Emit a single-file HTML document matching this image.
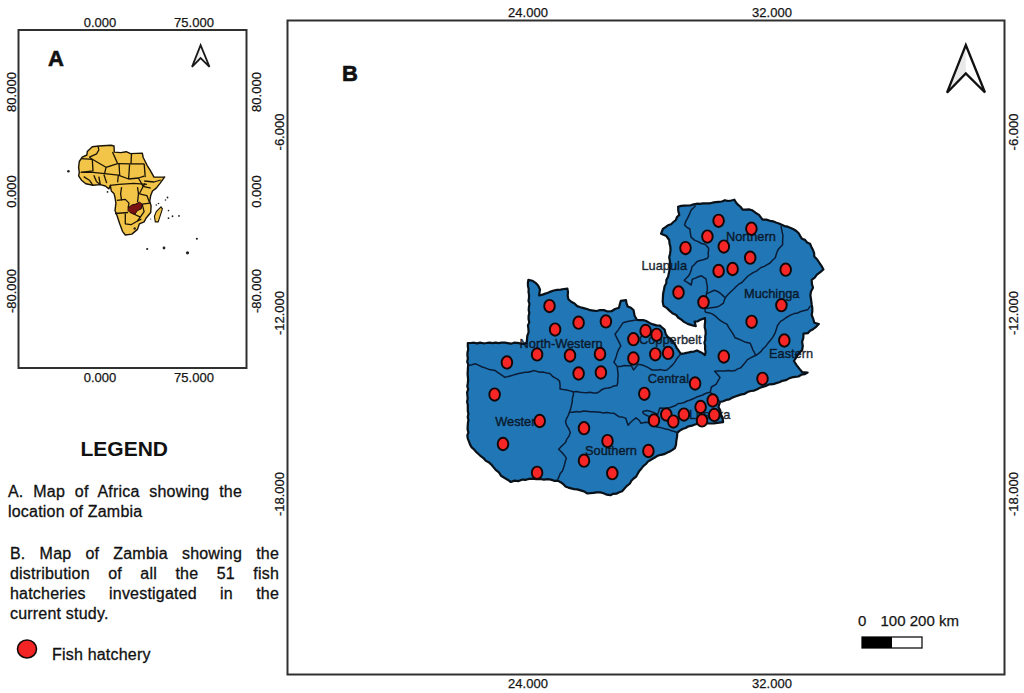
<!DOCTYPE html>
<html><head><meta charset="utf-8"><style>
html,body{margin:0;padding:0;background:#fff;width:1024px;height:693px;overflow:hidden;position:relative}
.p{position:absolute;font-family:"Liberation Sans",sans-serif;font-size:16px;line-height:20px;color:#111;text-align:justify;letter-spacing:0.2px;-webkit-text-stroke:0.3px #111}
.j{text-align:justify;text-align-last:justify;white-space:nowrap}
.h{position:absolute;font-family:"Liberation Sans",sans-serif;font-size:21px;font-weight:bold;color:#111;left:80.5px;top:437px;line-height:24px}
</style></head><body>
<svg width="1024" height="693" viewBox="0 0 1024 693" style="position:absolute;left:0;top:0"><rect x="18.5" y="30" width="228" height="338" fill="none" stroke="#303030" stroke-width="2"/><rect x="287.5" y="20.5" width="717" height="654" fill="none" stroke="#303030" stroke-width="2"/><text x="100" y="26.5" font-size="13" text-anchor="middle" font-family="Liberation Sans" fill="#151515" stroke="#151515" stroke-width="0.25">0.000</text><text x="100" y="382" font-size="13" text-anchor="middle" font-family="Liberation Sans" fill="#151515" stroke="#151515" stroke-width="0.25">0.000</text><text x="194" y="26.5" font-size="13" text-anchor="middle" font-family="Liberation Sans" fill="#151515" stroke="#151515" stroke-width="0.25">75.000</text><text x="194" y="382" font-size="13" text-anchor="middle" font-family="Liberation Sans" fill="#151515" stroke="#151515" stroke-width="0.25">75.000</text><text transform="translate(15.5,92) rotate(-90)" x="0" y="0" font-size="13" text-anchor="middle" font-family="Liberation Sans" fill="#151515" stroke="#151515" stroke-width="0.25">80.000</text><text transform="translate(260.5,92) rotate(-90)" x="0" y="0" font-size="13" text-anchor="middle" font-family="Liberation Sans" fill="#151515" stroke="#151515" stroke-width="0.25">80.000</text><text transform="translate(15.5,191.5) rotate(-90)" x="0" y="0" font-size="13" text-anchor="middle" font-family="Liberation Sans" fill="#151515" stroke="#151515" stroke-width="0.25">0.000</text><text transform="translate(260.5,191.5) rotate(-90)" x="0" y="0" font-size="13" text-anchor="middle" font-family="Liberation Sans" fill="#151515" stroke="#151515" stroke-width="0.25">0.000</text><text transform="translate(15.5,291) rotate(-90)" x="0" y="0" font-size="13" text-anchor="middle" font-family="Liberation Sans" fill="#151515" stroke="#151515" stroke-width="0.25">-80.000</text><text transform="translate(260.5,291) rotate(-90)" x="0" y="0" font-size="13" text-anchor="middle" font-family="Liberation Sans" fill="#151515" stroke="#151515" stroke-width="0.25">-80.000</text><text x="528" y="17" font-size="13" text-anchor="middle" font-family="Liberation Sans" fill="#151515" stroke="#151515" stroke-width="0.25">24.000</text><text x="528" y="688" font-size="13" text-anchor="middle" font-family="Liberation Sans" fill="#151515" stroke="#151515" stroke-width="0.25">24.000</text><text x="772" y="17" font-size="13" text-anchor="middle" font-family="Liberation Sans" fill="#151515" stroke="#151515" stroke-width="0.25">32.000</text><text x="772" y="688" font-size="13" text-anchor="middle" font-family="Liberation Sans" fill="#151515" stroke="#151515" stroke-width="0.25">32.000</text><text transform="translate(283.5,132) rotate(-90)" x="0" y="0" font-size="13" text-anchor="middle" font-family="Liberation Sans" fill="#151515" stroke="#151515" stroke-width="0.25">-6.000</text><text transform="translate(1018.3,132) rotate(-90)" x="0" y="0" font-size="13" text-anchor="middle" font-family="Liberation Sans" fill="#151515" stroke="#151515" stroke-width="0.25">-6.000</text><text transform="translate(283.5,313) rotate(-90)" x="0" y="0" font-size="13" text-anchor="middle" font-family="Liberation Sans" fill="#151515" stroke="#151515" stroke-width="0.25">-12.000</text><text transform="translate(1018.3,313) rotate(-90)" x="0" y="0" font-size="13" text-anchor="middle" font-family="Liberation Sans" fill="#151515" stroke="#151515" stroke-width="0.25">-12.000</text><text transform="translate(283.5,494) rotate(-90)" x="0" y="0" font-size="13" text-anchor="middle" font-family="Liberation Sans" fill="#151515" stroke="#151515" stroke-width="0.25">-18.000</text><text transform="translate(1018.3,494) rotate(-90)" x="0" y="0" font-size="13" text-anchor="middle" font-family="Liberation Sans" fill="#151515" stroke="#151515" stroke-width="0.25">-18.000</text><text x="48" y="65.6" font-size="22" font-weight="bold" font-family="Liberation Sans" fill="#111" stroke="#111" stroke-width="0.6">A</text><text x="342" y="80.6" font-size="22" font-weight="bold" font-family="Liberation Sans" fill="#111" stroke="#111" stroke-width="0.6">B</text><polygon points="200.6,45.2 200.6,58 192,66.8" fill="#eee"/><polygon points="200.6,45.2 209.5,66.8 200.6,58 192,66.8" fill="none" stroke="#1a1a1a" stroke-width="1.8" stroke-linejoin="miter"/><polygon points="965.8,45 965.8,73.5 947,92.7" fill="#e9e9e9"/><polygon points="965.8,45 985,92.5 965.8,73.5 947,92.7" fill="none" stroke="#111" stroke-width="2.3" stroke-linejoin="miter"/><polygon points="78.6,167.3 79.3,161.5 82.2,157.2 86.9,155.0 87.3,151.4 92.3,146.7 98.8,146.0 111.0,145.2 114.0,146.0 114.3,152.1 120.8,152.6 126.2,151.7 130.5,153.6 142.3,153.1 143.2,157.5 147.1,165.3 150.1,170.2 154.0,177.1 163.8,177.1 164.7,176.9 160.0,183.4 156.3,188.1 152.5,191.0 150.7,195.6 149.7,201.3 151.1,206.0 150.7,212.5 146.0,218.2 144.1,221.9 139.4,223.8 137.5,229.4 131.9,234.1 125.3,235.0 122.5,231.3 119.7,223.8 116.9,215.3 115.0,210.6 115.9,203.1 115.0,197.5 114.1,193.8 111.3,191.0 110.3,185.3 108.9,188.9 105.3,186.0 100.3,184.6 93.0,185.3 85.8,183.8 81.5,180.2 78.6,175.9 79.3,172.3" fill="#f2c448" stroke="#1a1408" stroke-width="1.4" stroke-linejoin="round"/><polyline points="89.4,157.2 96.6,153.9 98.8,150.0 98.1,146.3" fill="none" stroke="#1a1408" stroke-width="1.3" stroke-linejoin="round"/><polyline points="81.5,158.6 92.3,159.3" fill="none" stroke="#1a1408" stroke-width="1.3" stroke-linejoin="round"/><polyline points="92.3,159.3 93.0,170.9 80.8,172.3" fill="none" stroke="#1a1408" stroke-width="1.3" stroke-linejoin="round"/><polyline points="89.4,157.2 92.3,159.3 106.0,167.3 117.6,163.6" fill="none" stroke="#1a1408" stroke-width="1.3" stroke-linejoin="round"/><polyline points="112.5,152.1 117.6,163.6" fill="none" stroke="#1a1408" stroke-width="1.3" stroke-linejoin="round"/><polyline points="106.0,167.3 104.6,173.7" fill="none" stroke="#1a1408" stroke-width="1.3" stroke-linejoin="round"/><polyline points="117.6,163.6 131.0,163.9" fill="none" stroke="#1a1408" stroke-width="1.3" stroke-linejoin="round"/><polyline points="131.5,153.6 131.0,163.9" fill="none" stroke="#1a1408" stroke-width="1.3" stroke-linejoin="round"/><polyline points="131.0,163.9 144.2,163.9" fill="none" stroke="#1a1408" stroke-width="1.3" stroke-linejoin="round"/><polyline points="119.0,163.6 119.7,175.2" fill="none" stroke="#1a1408" stroke-width="1.3" stroke-linejoin="round"/><polyline points="129.6,164.4 128.6,179.0" fill="none" stroke="#1a1408" stroke-width="1.3" stroke-linejoin="round"/><polyline points="80.8,172.3 93.0,172.3 104.6,173.7 118.3,175.2 128.6,179.0 138.4,178.0 144.2,176.1" fill="none" stroke="#1a1408" stroke-width="1.3" stroke-linejoin="round"/><polyline points="144.2,163.9 145.2,177.1" fill="none" stroke="#1a1408" stroke-width="1.3" stroke-linejoin="round"/><polyline points="144.2,181.0 154.0,182.0 160.8,180.0" fill="none" stroke="#1a1408" stroke-width="1.3" stroke-linejoin="round"/><polyline points="83.7,176.6 89.4,180.2" fill="none" stroke="#1a1408" stroke-width="1.3" stroke-linejoin="round"/><polyline points="93.8,175.2 96.6,181.7" fill="none" stroke="#1a1408" stroke-width="1.3" stroke-linejoin="round"/><polyline points="98.8,176.6 100.3,184.6" fill="none" stroke="#1a1408" stroke-width="1.3" stroke-linejoin="round"/><polyline points="103.9,174.5 106.7,183.1" fill="none" stroke="#1a1408" stroke-width="1.3" stroke-linejoin="round"/><polyline points="118.3,175.2 117.6,182.4" fill="none" stroke="#1a1408" stroke-width="1.3" stroke-linejoin="round"/><polyline points="89.4,180.2 93.0,185.3" fill="none" stroke="#1a1408" stroke-width="1.3" stroke-linejoin="round"/><polyline points="96.6,181.7 100.3,184.6" fill="none" stroke="#1a1408" stroke-width="1.3" stroke-linejoin="round"/><polyline points="110.3,185.3 118.8,184.4 133.8,183.4 146.9,184.4" fill="none" stroke="#1a1408" stroke-width="1.3" stroke-linejoin="round"/><polyline points="121.6,187.2 120.6,193.8 121.6,200.3" fill="none" stroke="#1a1408" stroke-width="1.3" stroke-linejoin="round"/><polyline points="137.5,187.2 138.5,193.8 137.5,202.2" fill="none" stroke="#1a1408" stroke-width="1.3" stroke-linejoin="round"/><polyline points="116.9,200.3 125.3,199.4 129.0,203.1 128.1,207.8" fill="none" stroke="#1a1408" stroke-width="1.3" stroke-linejoin="round"/><polyline points="115.0,213.5 128.1,212.5" fill="none" stroke="#1a1408" stroke-width="1.3" stroke-linejoin="round"/><polyline points="125.3,213.5 125.3,223.8 131.0,224.7 137.5,221.0 141.3,219.1" fill="none" stroke="#1a1408" stroke-width="1.3" stroke-linejoin="round"/><polyline points="132.8,213.5 140.3,217.2 137.5,221.0" fill="none" stroke="#1a1408" stroke-width="1.3" stroke-linejoin="round"/><polyline points="142.2,204.1 144.1,211.6 140.3,217.2" fill="none" stroke="#1a1408" stroke-width="1.3" stroke-linejoin="round"/><polyline points="139.4,193.8 146.9,195.6 149.7,203.1 142.2,204.1" fill="none" stroke="#1a1408" stroke-width="1.3" stroke-linejoin="round"/><polyline points="143.2,186.3 150.7,188.1" fill="none" stroke="#1a1408" stroke-width="1.3" stroke-linejoin="round"/><polyline points="145.0,183.4 143.2,186.3 139.4,193.8" fill="none" stroke="#1a1408" stroke-width="1.3" stroke-linejoin="round"/><polyline points="138.4,178.0 143.2,186.3" fill="none" stroke="#1a1408" stroke-width="1.3" stroke-linejoin="round"/><polygon points="161,206.9 162.4,208.8 160,216.3 158.2,221.9 155.3,221.9 154.4,216.3 156.3,211.6" fill="#f2c448" stroke="#1a1408" stroke-width="1.1"/><polygon points="128.1,207.8 131.9,205 135.6,204.1 139.4,202.2 142.2,204.1 141.3,208.8 137.5,210.6 134.7,214.4 130,212.5 128.1,210.6" fill="#7a1212" stroke="#1a0808" stroke-width="1"/><circle cx="68.4" cy="171.25" r="1.3" fill="#222"/><circle cx="107.5" cy="191.9" r="0.9" fill="#222"/><circle cx="156.3" cy="205" r="0.8" fill="#222"/><circle cx="158.5" cy="203.5" r="0.8" fill="#222"/><circle cx="167.5" cy="197.5" r="0.9" fill="#222"/><circle cx="165.5" cy="200" r="0.8" fill="#222"/><circle cx="168.5" cy="210.6" r="0.8" fill="#222"/><circle cx="168.5" cy="218.2" r="0.9" fill="#222"/><circle cx="172.5" cy="216.25" r="0.9" fill="#222"/><circle cx="179" cy="215.9" r="0.9" fill="#222"/><circle cx="150.7" cy="219" r="0.6" fill="#222"/><circle cx="134.7" cy="228.5" r="1.2" fill="#222"/><circle cx="196.9" cy="238.75" r="1.1" fill="#222"/><circle cx="147.2" cy="249" r="1.1" fill="#222"/><circle cx="164" cy="248" r="1.4" fill="#222"/><circle cx="187.5" cy="252.8" r="1.6" fill="#222"/><polygon points="467.8,343.2 470.9,343.0 474.0,342.7 477.1,343.4 480.1,342.6 483.2,343.3 486.3,343.0 489.4,342.6 492.5,343.2 495.6,342.6 498.6,343.1 501.7,342.6 504.8,342.6 507.9,343.1 511.0,343.7 514.1,342.7 517.1,342.8 520.2,343.4 523.3,343.8 526.4,343.2 527.0,339.6 527.3,335.9 528.6,332.3 528.4,328.6 527.9,325.4 529.3,322.4 528.6,319.2 528.6,316.1 529.3,313.0 528.7,310.0 528.9,307.0 529.5,303.9 528.5,300.9 529.0,297.9 529.0,294.9 528.5,291.9 528.7,288.9 528.0,285.9 527.9,282.8 528.4,279.8 532.3,280.7 535.5,282.8 538.1,285.6 540.0,289.5 539.1,295.4 542.6,294.6 546.0,293.4 549.8,291.9 553.8,290.5 557.1,289.8 560.6,289.7 564.0,289.0 567.4,288.6 568.0,292.1 567.7,295.8 568.4,299.3 571.2,301.8 574.5,303.5 577.2,306.1 580.4,307.2 583.7,308.1 587.0,309.0 590.1,310.2 593.4,310.6 596.7,311.0 600.0,310.0 603.9,310.1 607.6,311.5 611.5,311.2 615.0,309.0 619.0,307.7 619.8,304.2 620.8,300.8 626.0,300.2 626.5,303.4 627.7,306.5 630.9,307.8 633.5,310.0 634.6,315.8 636.9,319.8 640.0,320.2 643.2,320.0 646.2,321.0 649.5,322.9 653.1,324.4 656.5,325.4 660.0,325.6 662.2,327.7 664.6,329.6 665.8,334.2 667.7,336.9 670.6,338.7 672.7,341.2 675.0,344.6 676.7,347.8 678.8,350.9 680.8,353.9 684.3,353.4 687.7,352.7 690.8,351.9 694.0,351.6 697.0,350.4 701.6,352.7 705.0,355.0 705.6,351.9 705.0,348.9 705.2,345.8 704.4,342.7 705.3,339.6 705.2,336.6 705.7,333.5 705.5,330.4 704.7,327.3 704.8,324.2 705.2,321.2 705.0,318.1 700.4,319.8 697.7,321.3 694.6,321.5 695.8,326.2 691.7,325.1 687.7,323.9 684.0,321.9 680.8,319.2 678.1,317.5 676.2,315.0 672.4,313.2 669.2,310.4 666.6,307.8 663.5,305.8 662.7,301.8 662.9,297.7 663.1,293.8 663.9,290.0 664.6,286.2 666.3,283.3 666.4,279.8 668.1,276.9 668.9,272.8 669.8,268.8 669.7,265.0 669.9,261.1 669.2,257.3 670.0,253.9 670.5,250.4 670.4,246.9 669.5,243.5 669.2,240.0 666.4,236.0 661.1,233.7 662.9,229.0 665.5,227.2 668.0,225.3 671.1,224.2 673.4,222.0 675.9,220.0 677.0,217.0 679.3,214.9 678.3,210.9 678.1,206.7 681.2,205.9 684.3,205.6 687.5,205.5 690.6,205.3 693.7,204.4 696.8,203.7 700.0,203.9 703.1,203.4 706.3,203.3 709.5,203.4 712.5,202.7 715.6,202.1 718.8,201.8 721.9,201.5 724.9,200.2 728.2,201.0 731.3,200.5 734.4,199.7 736.0,202.5 738.2,204.9 740.7,207.0 742.6,209.6 745.7,209.7 748.9,209.4 752.0,210.2 755.4,212.7 759.0,214.9 762.5,219.6 766.3,219.6 770.0,220.8 773.1,221.3 775.9,222.5 778.9,223.5 781.7,224.8 784.5,226.1 787.7,226.7 790.7,227.9 793.5,229.3 796.3,231.0 798.7,233.3 800.3,236.1 802.0,238.8 805.0,239.9 807.1,242.5 810.0,243.7 811.4,246.9 813.0,250.0 814.1,253.2 814.3,256.5 817.2,259.5 819.5,263.0 821.6,266.1 823.4,269.5 820.3,272.2 816.9,274.7 814.7,277.7 811.7,279.9 811.9,283.9 813.0,287.7 811.0,291.4 810.4,295.5 810.9,298.5 811.3,301.5 811.7,304.5 812.3,308.0 812.3,311.5 811.7,315.0 813.2,318.8 814.3,322.7 818.8,324.0 816.1,326.8 813.0,329.2 810.1,330.8 807.8,333.1 803.5,333.7 803.3,337.9 802.1,341.9 802.8,346.0 802.1,350.1 798.9,353.1 796.6,356.9 793.9,361.0 796.6,365.1 799.3,368.6 802.1,372.0 807.6,372.6 804.6,374.2 801.3,374.7 798.4,376.5 795.1,376.9 791.7,377.4 788.7,378.6 785.7,380.2 782.4,380.8 779.4,382.3 776.2,383.1 773.1,384.2 769.7,384.3 766.6,385.6 763.5,386.7 760.2,387.6 757.3,389.3 754.2,390.6 750.8,391.0 747.6,392.0 744.7,393.8 741.5,394.4 738.4,395.4 735.3,396.5 732.3,397.6 729.4,399.3 726.2,399.9 723.2,401.2 720.1,402.0 718.4,407.0 720.2,410.3 720.8,414.0 722.6,417.9 723.1,422.2 717.3,422.8 713.8,423.3 710.3,423.5 706.7,423.4 702.8,423.5 698.8,423.5 695.0,424.5 691.9,425.7 688.5,426.3 685.6,428.0 682.5,429.0 679.8,430.6 677.4,432.7 677.0,436.9 676.3,441.0 676.0,444.6 675.0,448.0 672.5,449.9 669.8,451.5 666.9,452.7 664.1,454.2 661.0,454.8 657.9,455.6 655.2,457.3 650.5,460.0 647.9,461.6 645.9,464.0 643.6,465.9 641.5,468.4 639.3,470.9 637.7,473.8 636.2,476.6 633.6,478.5 631.4,480.7 629.9,483.5 627.0,485.8 624.5,488.5 622.1,491.3 619.2,492.3 616.4,493.7 613.2,493.8 610.4,495.2 606.9,494.7 603.6,493.3 600.3,492.4 596.7,492.3 593.5,492.8 590.2,493.1 587.0,493.3 584.0,491.4 580.6,490.4 577.2,489.4 574.2,489.1 571.2,488.4 568.3,487.6 565.5,486.4 563.2,484.0 560.6,482.2 557.7,480.6 554.2,480.8 550.9,479.6 547.5,479.2 544.0,479.6 540.1,479.0 536.2,479.1 532.3,478.6 529.0,478.9 525.8,479.8 522.5,479.6 518.7,481.1 514.6,480.6 510.8,482.0 507.6,479.7 504.3,477.8 501.0,475.7 498.9,472.4 495.7,469.9 493.2,466.9 491.1,464.3 488.6,462.2 485.6,460.6 483.4,458.1 480.8,456.2 478.5,454.0 476.1,451.9 474.1,449.5 471.7,447.4 470.1,444.6 469.0,441.6 467.8,438.6 467.3,435.5 468.4,432.4 467.6,429.4 467.7,426.3 467.9,423.2 468.4,420.1 467.7,417.1 468.4,414.0 467.8,410.9 467.8,407.8 467.8,404.7 467.1,401.7 467.7,398.6 467.4,395.5 467.1,392.4 468.2,389.4 467.3,386.3 467.8,383.2 468.1,380.1 467.9,377.1 467.6,374.0 467.8,370.9 467.9,367.8 468.2,364.7 467.2,361.7 467.9,358.6 467.4,355.5 467.5,352.4 468.2,349.4 467.8,346.3" fill="#2176b5" stroke="#081018" stroke-width="2.2" stroke-linejoin="round"/><polyline points="467.8,365.7 471.7,364.8 475.6,363.8 478.9,365.4 482.3,367.0 485.9,368.1 489.3,369.6 495.2,370.6 498.4,372.9 501.7,375.1 505.0,377.4 508.4,376.4 511.8,375.6 515.2,374.4 518.6,373.5 521.7,372.9 524.8,372.3 528.0,372.2 531.1,371.4 534.2,370.6 537.3,371.5 540.4,372.2 543.6,372.1 546.7,373.0 549.8,373.5 552.0,375.8 554.5,377.6 557.4,379.1 559.6,381.3 560.1,385.1 560.0,389.0 563.3,389.6 566.7,390.0 570.0,390.9 573.3,391.8" fill="none" stroke="#0a1c36" stroke-width="1.5" stroke-linejoin="round"/><polyline points="573.3,391.8 576.7,391.6 580.0,392.3 583.3,392.6 586.7,392.8 590.0,392.3 593.3,393.0 596.7,393.0 599.4,391.6 601.7,389.7 604.5,388.5 607.7,388.1 610.8,387.4 613.8,386.0 617.0,385.5 617.8,382.2 617.7,378.8 618.2,375.5 617.7,371.1 617.3,366.6" fill="none" stroke="#0a1c36" stroke-width="1.5" stroke-linejoin="round"/><polyline points="617.3,366.6 613.9,362.0 615.4,359.1 616.4,355.9 617.3,352.7 618.8,349.1 620.8,345.8 618.5,341.2 616.7,337.7 615.0,334.2 618.5,329.6 620.8,326.2 623.1,322.7 626.5,321.8 629.9,321.0 633.4,320.4 636.9,319.8" fill="none" stroke="#0a1c36" stroke-width="1.5" stroke-linejoin="round"/><polyline points="617.3,366.6 620.8,366.5 624.2,365.6 627.7,365.7 631.2,365.4 633.5,370.0 635.8,367.1 638.1,364.3 642.3,365.0 646.2,366.6 649.1,368.2 651.9,370.0 654.9,370.1 657.9,370.0 660.9,369.6 663.9,370.4 666.9,370.0 669.8,367.5 672.6,364.9 675.0,361.9 676.6,359.0 678.7,356.4 680.8,353.9" fill="none" stroke="#0a1c36" stroke-width="1.5" stroke-linejoin="round"/><polyline points="573.3,391.8 573.4,395.1 572.4,398.2 572.3,401.5 571.5,405.1 570.7,408.7 569.4,412.2 568.2,415.5 566.5,418.6 565.5,422.0 566.8,425.7 568.9,429.0 570.3,432.7 569.0,436.1 566.8,439.1 565.5,442.5 563.2,444.7 560.8,446.9 558.6,449.3 561.5,452.0 564.1,454.9 566.4,458.1 565.3,461.3 564.5,464.7 563.5,467.9 562.4,471.0 560.2,473.6 559.0,476.6 557.7,479.6" fill="none" stroke="#0a1c36" stroke-width="1.5" stroke-linejoin="round"/><polyline points="569.4,412.2 572.9,412.3 576.4,411.4 580.0,412.0 583.5,411.1 587.0,411.2 590.3,411.8 593.6,411.7 596.9,411.9 600.1,412.3 603.4,412.9 606.7,412.5 610.0,413.0 614.1,413.3 618.9,416.7 622.4,417.1 625.7,418.1 626.9,421.7 628.1,425.3 630.2,422.7 632.6,420.5 636.0,417.8 639.4,420.5 640.8,423.2 645.5,422.2 649.0,422.6 652.9,424.5 656.5,427.0 660.7,427.6 664.7,428.7 668.2,429.4 671.5,430.8 674.5,431.5 677.4,432.7" fill="none" stroke="#0a1c36" stroke-width="1.5" stroke-linejoin="round"/><polyline points="649.0,416.4 646.2,415.2 643.5,413.7 642.8,411.6 646.9,410.6 651.0,411.6 654.5,412.8 657.8,414.4 659.2,409.6 660.0,407.9 664.7,408.2 670.2,407.5 675.6,405.5 678.4,403.4 681.0,403.4 684.2,402.5 687.1,401.0 690.3,400.0 693.2,398.8 696.0,397.3 699.0,396.3 702.0,395.2 706.0,393.3 710.2,392.3" fill="none" stroke="#0a1c36" stroke-width="1.5" stroke-linejoin="round"/><polyline points="649.0,416.4 649.2,419.5 649.0,422.6" fill="none" stroke="#0a1c36" stroke-width="1.5" stroke-linejoin="round"/><polyline points="710.2,392.3 713.4,394.8 716.0,398.0 720.1,402.0" fill="none" stroke="#0a1c36" stroke-width="1.5" stroke-linejoin="round"/><polyline points="755.6,355.5 752.8,356.7 750.1,358.2 747.4,359.6 745.3,362.6 742.9,365.2 740.6,367.9 737.7,368.9 735.1,370.6 731.7,371.1 728.3,370.5 724.9,371.0 721.4,371.1 718.0,370.9 714.6,371.3 717.4,374.3 720.1,377.4 718.0,380.8 716.0,384.3 711.4,387.0 710.2,392.3" fill="none" stroke="#0a1c36" stroke-width="1.5" stroke-linejoin="round"/><polyline points="810.4,305.8 807.8,309.7 804.4,310.6 800.9,311.4 797.7,313.0 794.2,313.6 790.9,314.9 788.2,316.4 785.6,318.0 783.1,319.8 780.5,321.4 777.5,325.5 776.3,329.6 774.8,333.7 772.8,337.1 770.5,340.2 767.9,343.2 765.9,346.2 763.2,348.5 761.1,351.4 758.5,353.6 755.6,355.5" fill="none" stroke="#0a1c36" stroke-width="1.5" stroke-linejoin="round"/><polyline points="705.2,312.3 708.5,312.7 711.7,313.6 715.2,315.9 718.2,318.8 720.9,320.8 723.8,322.6 726.9,324.1 728.8,327.6 731.0,330.9 733.2,334.2 735.1,337.8 738.4,339.0 741.6,340.4 744.7,341.9 750.2,343.2 751.6,346.6 752.9,350.1 754.5,352.7 755.6,355.5" fill="none" stroke="#0a1c36" stroke-width="1.5" stroke-linejoin="round"/><polyline points="695.7,205.5 693.4,207.9 691.0,210.2 689.4,214.4 687.5,218.4 685.7,221.5 684.6,224.9 686.9,227.3 689.8,229.0 690.4,233.1 691.0,237.2 694.5,240.1 698.1,241.6 701.5,243.5 705.1,244.2 708.5,248.1 708.6,250.0 708.1,253.1 708.5,256.2 707.4,258.3 703.3,259.7 699.2,260.8 696.9,261.8 693.5,265.4 692.2,266.5 691.2,270.0 690.0,273.5 688.4,276.1 686.2,278.2 684.2,280.4 687.7,282.7 691.2,285.0 692.3,279.2 695.4,278.1 698.3,276.7 701.5,275.8 706.2,279.2 706.6,283.1 707.4,286.9 707.3,290.8 706.2,294.2" fill="none" stroke="#0a1c36" stroke-width="1.5" stroke-linejoin="round"/><polyline points="706.2,294.2 710.2,292.1 714.3,290.3 717.3,291.3 720.0,293.0 722.4,295.1 724.7,297.4" fill="none" stroke="#0a1c36" stroke-width="1.5" stroke-linejoin="round"/><polyline points="706.2,294.2 706.4,297.2 706.1,300.2 705.7,303.2 705.5,306.2 705.0,309.2 705.2,312.3" fill="none" stroke="#0a1c36" stroke-width="1.5" stroke-linejoin="round"/><polyline points="781.0,226.0 781.6,229.3 782.3,232.7 783.0,236.0 782.6,240.3 782.6,244.7 780.1,247.3 777.9,250.0 776.4,253.8 775.3,257.8 772.5,260.2 770.1,263.0 767.2,264.7 764.3,266.4 761.1,267.5 758.4,269.5 756.0,271.4 753.1,272.6 750.5,274.3 748.0,276.0 744.2,279.9 741.9,282.5 738.8,284.2 736.2,286.5 733.8,289.0 731.1,291.5 728.5,294.0 726.0,296.8 724.4,299.9 723.4,303.2 720.3,305.4 716.9,307.1 713.0,307.5 709.1,308.0 705.2,308.4" fill="none" stroke="#0a1c36" stroke-width="1.5" stroke-linejoin="round"/><text x="726" y="240.5" font-family="Liberation Sans" font-size="12.8" fill="#07101c" fill-opacity="0.85" stroke="#07101c" stroke-opacity="0.7" stroke-width="0.55">Northern</text><text x="641.5" y="270" font-family="Liberation Sans" font-size="12.8" fill="#07101c" fill-opacity="0.85" stroke="#07101c" stroke-opacity="0.7" stroke-width="0.55">Luapula</text><text x="744" y="297.7" font-family="Liberation Sans" font-size="12.8" fill="#07101c" fill-opacity="0.85" stroke="#07101c" stroke-opacity="0.7" stroke-width="0.55">Muchinga</text><text x="639" y="343.5" font-family="Liberation Sans" font-size="12.8" fill="#07101c" fill-opacity="0.85" stroke="#07101c" stroke-opacity="0.7" stroke-width="0.55">Copperbelt</text><text x="519.6" y="347.7" font-family="Liberation Sans" font-size="12.8" fill="#07101c" fill-opacity="0.85" stroke="#07101c" stroke-opacity="0.7" stroke-width="0.55">North-Western</text><text x="647.8" y="382.5" font-family="Liberation Sans" font-size="12.8" fill="#07101c" fill-opacity="0.85" stroke="#07101c" stroke-opacity="0.7" stroke-width="0.55">Central</text><text x="769" y="357.7" font-family="Liberation Sans" font-size="12.8" fill="#07101c" fill-opacity="0.85" stroke="#07101c" stroke-opacity="0.7" stroke-width="0.55">Eastern</text><text x="495.2" y="425.5" font-family="Liberation Sans" font-size="12.8" fill="#07101c" fill-opacity="0.85" stroke="#07101c" stroke-opacity="0.7" stroke-width="0.55">Western</text><text x="585" y="454.8" font-family="Liberation Sans" font-size="12.8" fill="#07101c" fill-opacity="0.85" stroke="#07101c" stroke-opacity="0.7" stroke-width="0.55">Southern</text><text x="689" y="418.5" font-family="Liberation Sans" font-size="12.8" fill="#07101c" fill-opacity="0.85" stroke="#07101c" stroke-opacity="0.7" stroke-width="0.55">Lusaka</text><ellipse cx="718.6" cy="220.8" rx="5.3" ry="6.2" fill="#f62626" stroke="#120606" stroke-width="1.9"/><ellipse cx="751.4" cy="228.75" rx="5.3" ry="6.2" fill="#f62626" stroke="#120606" stroke-width="1.9"/><ellipse cx="707.4" cy="236.6" rx="5.3" ry="6.2" fill="#f62626" stroke="#120606" stroke-width="1.9"/><ellipse cx="723.8" cy="246.6" rx="5.3" ry="6.2" fill="#f62626" stroke="#120606" stroke-width="1.9"/><ellipse cx="685.5" cy="248.1" rx="5.3" ry="6.2" fill="#f62626" stroke="#120606" stroke-width="1.9"/><ellipse cx="750.2" cy="257.7" rx="5.3" ry="6.2" fill="#f62626" stroke="#120606" stroke-width="1.9"/><ellipse cx="718.6" cy="271" rx="5.3" ry="6.2" fill="#f62626" stroke="#120606" stroke-width="1.9"/><ellipse cx="732.6" cy="269" rx="5.3" ry="6.2" fill="#f62626" stroke="#120606" stroke-width="1.9"/><ellipse cx="785.7" cy="269.7" rx="5.3" ry="6.2" fill="#f62626" stroke="#120606" stroke-width="1.9"/><ellipse cx="678.5" cy="292.5" rx="5.3" ry="6.2" fill="#f62626" stroke="#120606" stroke-width="1.9"/><ellipse cx="703.5" cy="302.2" rx="5.3" ry="6.2" fill="#f62626" stroke="#120606" stroke-width="1.9"/><ellipse cx="781.4" cy="305.2" rx="5.3" ry="6.2" fill="#f62626" stroke="#120606" stroke-width="1.9"/><ellipse cx="751.6" cy="321.8" rx="5.3" ry="6.2" fill="#f62626" stroke="#120606" stroke-width="1.9"/><ellipse cx="784.3" cy="340.5" rx="5.3" ry="6.2" fill="#f62626" stroke="#120606" stroke-width="1.9"/><ellipse cx="723.8" cy="356.6" rx="5.3" ry="6.2" fill="#f62626" stroke="#120606" stroke-width="1.9"/><ellipse cx="762.5" cy="378.8" rx="5.3" ry="6.2" fill="#f62626" stroke="#120606" stroke-width="1.9"/><ellipse cx="695.1" cy="383.5" rx="5.3" ry="6.2" fill="#f62626" stroke="#120606" stroke-width="1.9"/><ellipse cx="712.7" cy="400.5" rx="5.3" ry="6.2" fill="#f62626" stroke="#120606" stroke-width="1.9"/><ellipse cx="700.6" cy="407" rx="5.3" ry="6.2" fill="#f62626" stroke="#120606" stroke-width="1.9"/><ellipse cx="683.9" cy="414.6" rx="5.3" ry="6.2" fill="#f62626" stroke="#120606" stroke-width="1.9"/><ellipse cx="666.3" cy="414.6" rx="5.3" ry="6.2" fill="#f62626" stroke="#120606" stroke-width="1.9"/><ellipse cx="673.3" cy="421.6" rx="5.3" ry="6.2" fill="#f62626" stroke="#120606" stroke-width="1.9"/><ellipse cx="654" cy="420.4" rx="5.3" ry="6.2" fill="#f62626" stroke="#120606" stroke-width="1.9"/><ellipse cx="702" cy="420.4" rx="5.3" ry="6.2" fill="#f62626" stroke="#120606" stroke-width="1.9"/><ellipse cx="714.3" cy="414.9" rx="5.3" ry="6.2" fill="#f62626" stroke="#120606" stroke-width="1.9"/><ellipse cx="648.4" cy="451" rx="5.3" ry="6.2" fill="#f62626" stroke="#120606" stroke-width="1.9"/><ellipse cx="644.3" cy="393.8" rx="5.3" ry="6.2" fill="#f62626" stroke="#120606" stroke-width="1.9"/><ellipse cx="645.6" cy="331" rx="5.3" ry="6.2" fill="#f62626" stroke="#120606" stroke-width="1.9"/><ellipse cx="656.6" cy="334.8" rx="5.3" ry="6.2" fill="#f62626" stroke="#120606" stroke-width="1.9"/><ellipse cx="633.4" cy="339.2" rx="5.3" ry="6.2" fill="#f62626" stroke="#120606" stroke-width="1.9"/><ellipse cx="655.3" cy="354.3" rx="5.3" ry="6.2" fill="#f62626" stroke="#120606" stroke-width="1.9"/><ellipse cx="668.1" cy="352.9" rx="5.3" ry="6.2" fill="#f62626" stroke="#120606" stroke-width="1.9"/><ellipse cx="633.4" cy="358.5" rx="5.3" ry="6.2" fill="#f62626" stroke="#120606" stroke-width="1.9"/><ellipse cx="549.5" cy="306.1" rx="5.3" ry="6.2" fill="#f62626" stroke="#120606" stroke-width="1.9"/><ellipse cx="555.1" cy="329.6" rx="5.3" ry="6.2" fill="#f62626" stroke="#120606" stroke-width="1.9"/><ellipse cx="578.6" cy="322.7" rx="5.3" ry="6.2" fill="#f62626" stroke="#120606" stroke-width="1.9"/><ellipse cx="605.9" cy="321.4" rx="5.3" ry="6.2" fill="#f62626" stroke="#120606" stroke-width="1.9"/><ellipse cx="506.9" cy="362.4" rx="5.3" ry="6.2" fill="#f62626" stroke="#120606" stroke-width="1.9"/><ellipse cx="537.1" cy="354.4" rx="5.3" ry="6.2" fill="#f62626" stroke="#120606" stroke-width="1.9"/><ellipse cx="570" cy="355.5" rx="5.3" ry="6.2" fill="#f62626" stroke="#120606" stroke-width="1.9"/><ellipse cx="600" cy="354" rx="5.3" ry="6.2" fill="#f62626" stroke="#120606" stroke-width="1.9"/><ellipse cx="578.6" cy="373.5" rx="5.3" ry="6.2" fill="#f62626" stroke="#120606" stroke-width="1.9"/><ellipse cx="600.9" cy="372.5" rx="5.3" ry="6.2" fill="#f62626" stroke="#120606" stroke-width="1.9"/><ellipse cx="494.6" cy="394.6" rx="5.3" ry="6.2" fill="#f62626" stroke="#120606" stroke-width="1.9"/><ellipse cx="539.7" cy="421" rx="5.3" ry="6.2" fill="#f62626" stroke="#120606" stroke-width="1.9"/><ellipse cx="503" cy="444" rx="5.3" ry="6.2" fill="#f62626" stroke="#120606" stroke-width="1.9"/><ellipse cx="537.1" cy="472.8" rx="5.3" ry="6.2" fill="#f62626" stroke="#120606" stroke-width="1.9"/><ellipse cx="584" cy="428.2" rx="5.3" ry="6.2" fill="#f62626" stroke="#120606" stroke-width="1.9"/><ellipse cx="607.5" cy="441.1" rx="5.3" ry="6.2" fill="#f62626" stroke="#120606" stroke-width="1.9"/><ellipse cx="584" cy="460.7" rx="5.3" ry="6.2" fill="#f62626" stroke="#120606" stroke-width="1.9"/><ellipse cx="612.3" cy="473.2" rx="5.3" ry="6.2" fill="#f62626" stroke="#120606" stroke-width="1.9"/><rect x="862" y="637" width="60" height="11" fill="#fff" stroke="#111" stroke-width="1.3"/><rect x="862" y="637" width="30" height="11" fill="#000"/><text x="858" y="626" font-size="15" font-family="Liberation Sans" fill="#151515" stroke="#151515" stroke-width="0.25">0</text><text x="880.5" y="626" font-size="15" font-family="Liberation Sans" fill="#151515" stroke="#151515" stroke-width="0.25">100 200 km</text><ellipse cx="27" cy="649" rx="9.5" ry="9" fill="#f52424" stroke="#140808" stroke-width="1.6"/></svg>
<div class="h">LEGEND</div>
<div class="p j" style="left:8px;top:482px;width:234px">A. Map of Africa showing the</div>
<div class="p" style="left:8px;top:502px">location of Zambia</div>
<div class="p j" style="left:10px;top:544px;width:269px">B. Map of Zambia showing the</div>
<div class="p j" style="left:10px;top:564px;width:269px">distribution of all the 51 fish</div>
<div class="p j" style="left:10px;top:584px;width:269px">hatcheries investigated in the</div>
<div class="p" style="left:10px;top:604px">current study.</div>
<div class="p" style="left:52px;top:645px;text-align:left">Fish hatchery</div>
</body></html>
